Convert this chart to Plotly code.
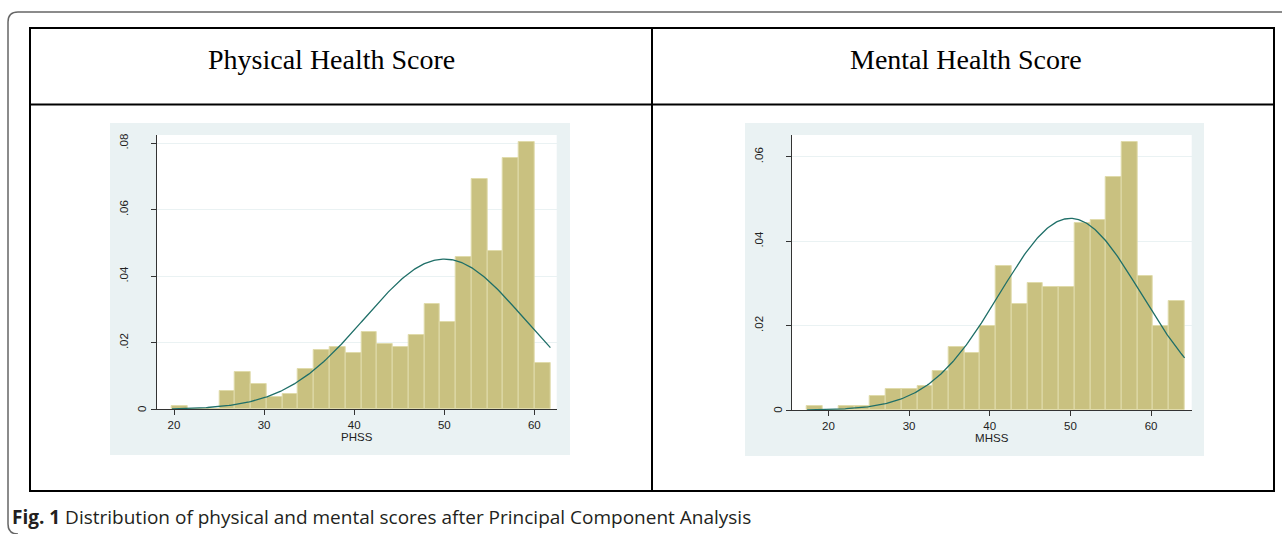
import numpy as np
import plotly.graph_objects as go

W, H = 1282, 534

# ---------------- data ----------------
titles = ["Physical Health Score", "Mental Health Score"]
axis_titles = ["PHSS", "MHSS"]
caption_bold = "Fig. 1"
caption_text = "Distribution of physical and mental scores after Principal Component Analysis"

# Physical health score histogram (density), 24 bins
phss_bin_start = 19.78
phss_bin_width = 1.75
phss_density = [0.0010, 0.0, 0.0, 0.0056, 0.0112, 0.0075, 0.0037, 0.0046,
                0.0122, 0.0178, 0.0187, 0.0168, 0.0234, 0.0196, 0.0186, 0.0224,
                0.0318, 0.0263, 0.0458, 0.0692, 0.0476, 0.0756, 0.0804, 0.0140]
phss_mean, phss_sd = 50.0, 8.83

# Mental health score histogram (density), 24 bins
mhss_bin_start = 17.36
mhss_bin_width = 1.95
mhss_density = [0.0009, 0.0, 0.0009, 0.0009, 0.0033, 0.0050, 0.0050, 0.0058,
                0.0092, 0.0150, 0.0134, 0.0200, 0.0342, 0.0251, 0.0300, 0.0292,
                0.0292, 0.0443, 0.0451, 0.0552, 0.0635, 0.0318, 0.0200, 0.0259]
mhss_mean, mhss_sd = 50.0, 8.78

x_ticks = [20, 30, 40, 50, 60]
y_ticks_1 = [0, 0.02, 0.04, 0.06, 0.08]
y_ticklabels_1 = ["0", ".02", ".04", ".06", ".08"]
y_ticks_2 = [0, 0.02, 0.04, 0.06]
y_ticklabels_2 = ["0", ".02", ".04", ".06"]

# ---------------- styles ----------------
BAR_FILL = "#c9c180"
BAR_LINE = "#e0dbab"
CURVE = "#1f6f68"
BG = "#eaf2f3"
AX = "#333333"
TXT = "#222222"
TICKFONT = dict(family="Liberation Sans, Arial", size=11.5, color=TXT)


def px(x):
    return x / W


def py(y):
    return 1 - y / H


def normal_pdf(x, m, s):
    return np.exp(-0.5 * ((x - m) / s) ** 2) / (s * np.sqrt(2 * np.pi))


fig = go.Figure()

panels = [
    dict(start=phss_bin_start, width=phss_bin_width, dens=phss_density,
         mean=phss_mean, sd=phss_sd, xr=[18.08, 62.48], yr=[0, 0.0825],
         yt=y_ticks_1, ytl=y_ticklabels_1,
         plot=(156.7, 135, 556.7, 409.3), bg=(110, 123, 570, 455)),
    dict(start=mhss_bin_start, width=mhss_bin_width, dens=mhss_density,
         mean=mhss_mean, sd=mhss_sd, xr=[15.45, 65.04], yr=[0, 0.0652],
         yt=y_ticks_2, ytl=y_ticklabels_2,
         plot=(791.7, 135, 1191.7, 410), bg=(745, 123, 1204, 456)),
]

shapes = []
annotations = []

for i, p in enumerate(panels):
    n = len(p["dens"])
    edges = p["start"] + p["width"] * np.arange(n + 1)
    centers = (edges[:-1] + edges[1:]) / 2
    xa = "x" if i == 0 else "x2"
    ya = "y" if i == 0 else "y2"
    fig.add_trace(go.Bar(x=centers, y=p["dens"], width=p["width"],
                         marker=dict(color=BAR_FILL, line=dict(color=BAR_LINE, width=1)),
                         xaxis=xa, yaxis=ya, showlegend=False, hoverinfo="skip"))
    xs = np.linspace(edges[0], edges[-1], 300)
    fig.add_trace(go.Scatter(x=xs, y=normal_pdf(xs, p["mean"], p["sd"]), mode="lines",
                             line=dict(color=CURVE, width=1.3),
                             xaxis=xa, yaxis=ya, showlegend=False, hoverinfo="skip"))

    x0, y0, x1, y1 = p["plot"]
    sfx = "" if i == 0 else "2"
    fig.layout["xaxis" + sfx] = dict(
        domain=[px(x0), px(x1)], anchor="y" + sfx, range=p["xr"],
        tickvals=x_ticks, ticks="outside", ticklen=5, tickcolor=AX, tickwidth=1,
        showline=True, linecolor=AX, linewidth=1, showgrid=False, zeroline=False,
        tickfont=TICKFONT, title=dict(text=axis_titles[i], font=TICKFONT, standoff=2),
        fixedrange=True)
    ytl = [""] + p["ytl"][1:]
    fig.layout["yaxis" + sfx] = dict(
        domain=[py(y1), py(y0)], anchor="x" + sfx, range=p["yr"],
        tickvals=p["yt"], ticktext=ytl, ticks="outside", ticklen=5, tickcolor=AX,
        tickwidth=1, tickangle=-90, ticklabelstandoff=18,
        showline=True, linecolor=AX, linewidth=1, showgrid=True, gridcolor=BG,
        gridwidth=1, zeroline=False, tickfont=TICKFONT, fixedrange=True)
    # "0" label sits closer to the axis (as in the original Stata output)
    annotations.append(dict(text=p["ytl"][0], xref="paper", yref="y" + sfx,
                            x=px(x0 - 14), y=0, textangle=-90, showarrow=False,
                            font=TICKFONT, xanchor="center", yanchor="middle"))

    bx0, by0, bx1, by1 = p["bg"]
    shapes.append(dict(type="rect", xref="paper", yref="paper", layer="below",
                       x0=px(bx0), x1=px(bx1), y0=py(by1), y1=py(by0),
                       fillcolor=BG, line=dict(width=0)))
    shapes.append(dict(type="rect", xref="paper", yref="paper", layer="below",
                       x0=px(x0), x1=px(x1), y0=py(y1), y1=py(y0),
                       fillcolor="white", line=dict(width=0)))

# table lines
TL, TT, TR, TB, TM, TV = 30, 28, 1274, 491, 104.5, 652
shapes.append(dict(type="rect", xref="paper", yref="paper", x0=px(TL), x1=px(TR),
                   y0=py(TB), y1=py(TT), line=dict(color="black", width=2)))
shapes.append(dict(type="line", xref="paper", yref="paper", x0=px(TL), x1=px(TR),
                   y0=py(TM), y1=py(TM), line=dict(color="black", width=2)))
shapes.append(dict(type="line", xref="paper", yref="paper", x0=px(TV), x1=px(TV),
                   y0=py(TB), y1=py(TT), line=dict(color="black", width=2)))

# outer rounded frame (left + top visible)
path = (f"M {px(1300)},{py(12)} L {px(18)},{py(12)} Q {px(8)},{py(12)} {px(8)},{py(22)} "
        f"L {px(8)},{py(524)} Q {px(8)},{py(534)} {px(18)},{py(534)}")
shapes.append(dict(type="path", xref="paper", yref="paper", path=path,
                   line=dict(color="#666666", width=1.5)))

# header texts
HF = dict(family="Liberation Serif, Times New Roman", size=28, color="black")
annotations.append(dict(text=titles[0], x=px(331), y=py(59), xref="paper", yref="paper",
                        showarrow=False, font=HF, xanchor="center", yanchor="middle"))
annotations.append(dict(text=titles[1], x=px(965.5), y=py(59), xref="paper", yref="paper",
                        showarrow=False, font=HF, xanchor="center", yanchor="middle"))

# caption
annotations.append(dict(text=f"<b>{caption_bold}</b> {caption_text}", x=px(10), y=py(517),
                        xref="paper", yref="paper", showarrow=False, xanchor="left",
                        yanchor="middle",
                        font=dict(family="Open Sans, Noto Sans", size=19, color="#231f20")))

fig.update_layout(width=W, height=H, margin=dict(l=0, r=0, t=0, b=0),
                  paper_bgcolor="white", plot_bgcolor="white", bargap=0,
                  shapes=shapes, annotations=annotations, showlegend=False)

fig.write_html("out.html", config={"displayModeBar": False},
               post_script="document.body.style.margin='0';document.body.style.overflow='hidden';")
